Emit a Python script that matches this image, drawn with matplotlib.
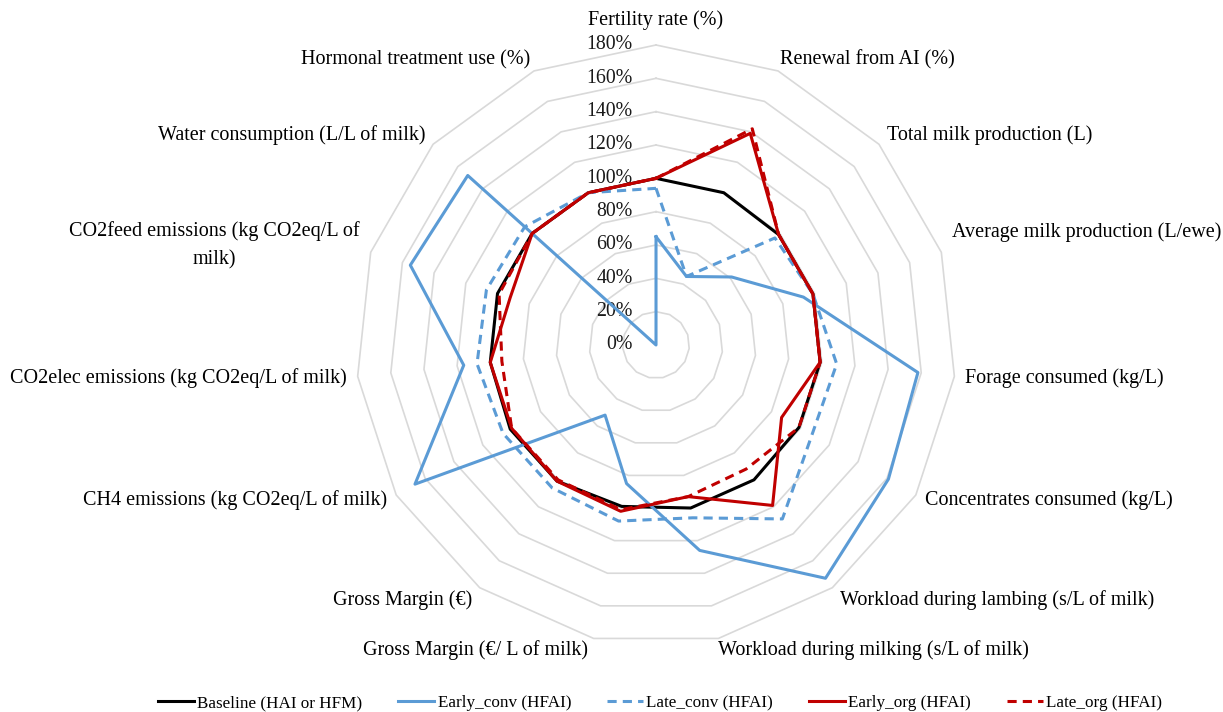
import numpy as np
import matplotlib
matplotlib.use("Agg")
from matplotlib import pyplot as plt

plt.rcParams['font.family'] = ['Liberation Serif', 'DejaVu Serif']

categories = [
    "Fertility rate (%)",
    "Renewal from AI (%)",
    "Total milk production (L)",
    "Average milk production (L/ewe)",
    "Forage consumed (kg/L)",
    "Concentrates consumed (kg/L)",
    "Workload during lambing (s/L of milk)",
    "Workload during milking (s/L of milk)",
    "Gross Margin (€/ L of milk)",
    "Gross Margin (€)",
    "CH4 emissions (kg CO2eq/L of milk)",
    "CO2elec emissions (kg CO2eq/L of milk)",
    "CO2feed emissions (kg CO2eq/L of\nmilk)",
    "Water consumption (L/L of milk)",
    "Hormonal treatment use (%)",
]

# valeurs en % de la situation de reference
baseline = [100, 100, 99, 99, 99, 99, 100, 100, 99, 101, 101, 100, 100, 100, 100]
early_conv = [65, 45, 61, 93, 158, 161, 173, 126, 85, 52, 167, 116, 155, 152, 0]
late_conv = [94, 45, 96, 99, 109, 108, 129, 106, 108, 106, 106, 108, 107, 106, 100]
early_org = [100, 139, 99, 99, 99, 87, 119, 93, 102, 101, 100, 100, 92, 100, 100]
late_org = [100, 142, 99, 99, 99, 99, 92, 93, 101, 100, 100, 93, 99, 100, 100]

series_names = ["Baseline (HAI or HFM)", "Early_conv (HFAI)", "Late_conv (HFAI)",
                "Early_org (HFAI)", "Late_org (HFAI)"]
levels = [0, 20, 40, 60, 80, 100, 120, 140, 160, 180]

n = len(categories)
theta = np.arange(n) * 2 * np.pi / n
theta_c = np.append(theta, theta[0])

fig = plt.figure(figsize=(12.23, 7.12), dpi=100)
ax = fig.add_axes([0.2911, 0.0941, 0.4906, 0.8427], projection='polar')
ax.set_theta_zero_location('N')
ax.set_theta_direction(-1)
ax.set_ylim(0, 180)
ax.grid(False)
ax.set_xticks([])
ax.set_yticks([])
ax.spines['polar'].set_visible(False)

# grille polygonale (style Excel)
for lv in levels[1:]:
    ax.plot(theta_c, [lv] * (n + 1), color='#d9d9d9', lw=1.2, zorder=1, clip_on=False)

for lv in levels:
    ax.annotate("%d%%" % lv, xy=(0, lv), xytext=(-17, 0), textcoords='offset points',
                ha='right', va='center', fontsize=14.3, color='#1a1a1a')

def close(v):
    return list(v) + [v[0]]

ax.plot(theta_c, close(baseline), color='black', lw=2.2, label=series_names[0], zorder=3, clip_on=False)
ax.plot(theta_c, close(early_conv), color='#5b9bd5', lw=2.2, label=series_names[1], zorder=3, clip_on=False)
ax.plot(theta_c, close(late_conv), color='#5b9bd5', lw=2.2, ls=(0, (3, 2)), label=series_names[2], zorder=3, clip_on=False)
ax.plot(theta_c, close(early_org), color='#c00000', lw=2.2, label=series_names[3], zorder=4, clip_on=False)
ax.plot(theta_c, close(late_org), color='#c00000', lw=2.2, ls=(0, (3, 2)), label=series_names[4], zorder=5, clip_on=False)

# position des etiquettes (decalage en pixels par rapport au sommet exterieur)
lab_off = [(0, 25), (2, 11), (8, 9), (11, 20), (11, -2), (9, -5), (8, -12), (0, -12),
           (-6, -12), (-7, -12), (-9, -5), (-11, -2), (-11, 7), (-8, 9), (-4, 11)]
for i, lab in enumerate(categories):
    dx, dy = lab_off[i]
    s = np.sin(theta[i])
    if abs(s) < 0.01:
        ha = 'center'
    elif s > 0:
        ha = 'left'
    else:
        ha = 'right'
    ax.annotate(lab, xy=(theta[i], 180), xytext=(dx * 0.72, dy * 0.72),
                textcoords='offset points', ha=ha, va='center', fontsize=14.5,
                multialignment='center', linespacing=1.6, annotation_clip=False)

fig.legend(loc='center', bbox_to_anchor=(0.5397, 0.0126), ncol=5, frameon=False,
           fontsize=12.3, handlelength=2.1, handletextpad=0.2, columnspacing=2.1)

plt.savefig("out.png", dpi=100)
